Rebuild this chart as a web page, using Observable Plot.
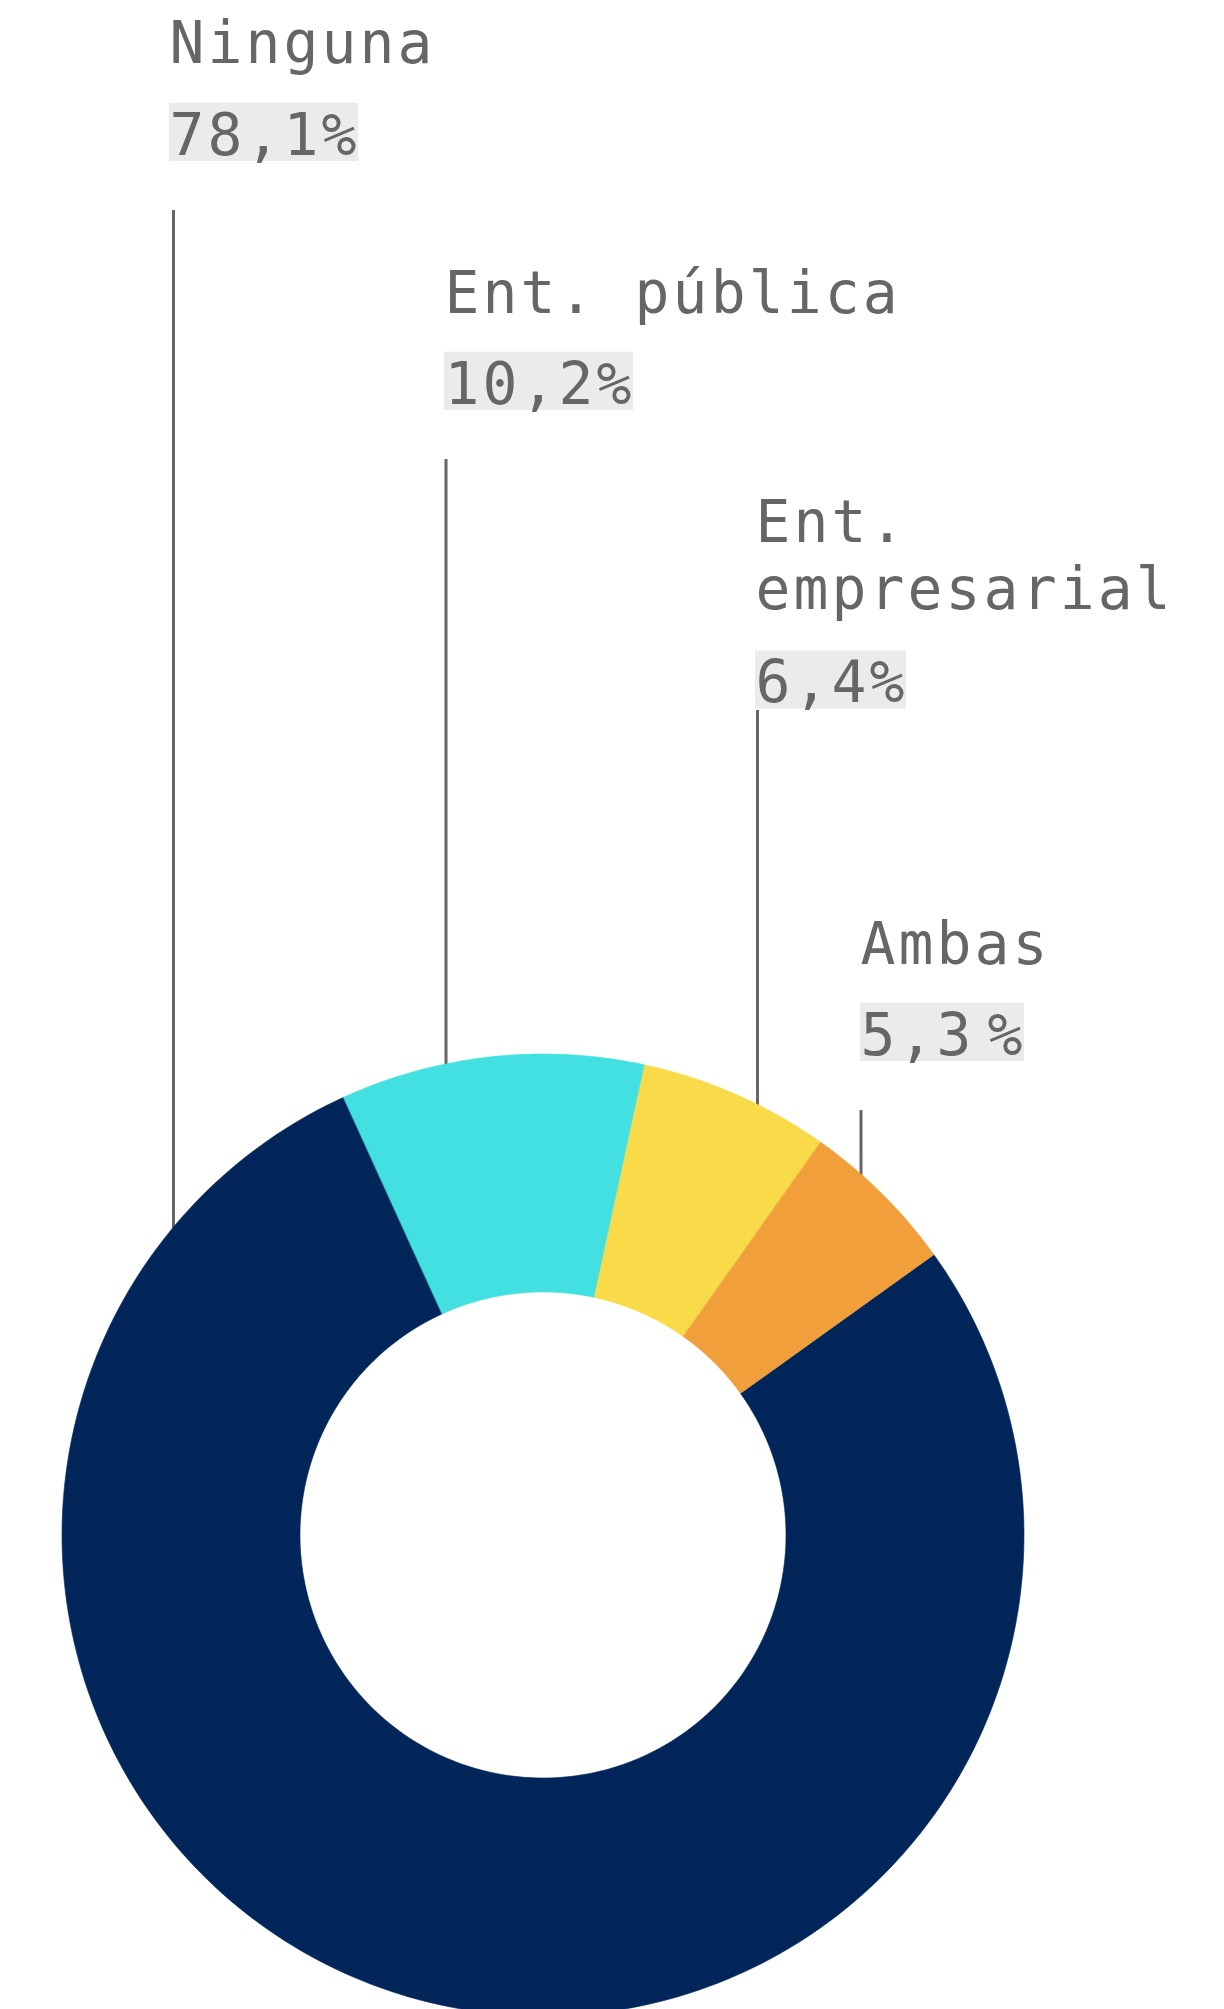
<!DOCTYPE html>
<html>
<head>
<meta charset="utf-8">
<script src="https://cdn.jsdelivr.net/npm/d3@7"></script>
<script src="https://cdn.jsdelivr.net/npm/@observablehq/plot@0.6"></script>
<style>
  html, body { margin: 0; padding: 0; background: #ffffff; }
  #chart svg { display: block; }
  #chart svg text { letter-spacing: 3.1px; }
</style>
</head>
<body>
<div id="chart"></div>
<script>
// ---- data ----
const categories = ["Ninguna", "Ent. pública", "Ent. empresarial", "Ambas"];
const values = [78.1, 10.2, 6.4, 5.3];
const colors = ["#02255A", "#42E0E0", "#F9DB49", "#F09F3A"];

// ---- layout (pixels) ----
const W = 1224, H = 2009;
const cx = 543, cy = 1535, outerR = 481, innerR = 243;
const startAngle = 54.35 * Math.PI / 180;
const labelX = [169, 444, 755, 860];
const leaderX = [173, 445.5, 757, 860.5];
const nameBaseline = [62.7, 312.7, 608, 963];
const valueBaseline = [154, 403, 701.7, 1054];
const lineTop = [210, 459, 710, 1110];
const pctGap = [0, 0, 0, 13];
const fontSize = 58, letterSp = 3.1, lineH = 66.3;
const fontFamily = "'DejaVu Sans Mono', 'Liberation Mono', monospace";
const textColor = "#666666", boxColor = "#EBEBEB";

// text measurement
const ctx = document.createElement("canvas").getContext("2d");
ctx.font = `${fontSize}px 'DejaVu Sans Mono'`;
const tw = s => ctx.measureText(s).width + s.length * letterSp;
function wrap(s, maxW) {
  const words = s.split(" "); const lines = []; let cur = "";
  for (const w of words) {
    const t = cur ? cur + " " + w : w;
    if (cur && tw(t) > maxW) { lines.push(cur); cur = w; } else cur = t;
  }
  if (cur) lines.push(cur);
  return lines.join("\n");
}

// ---- donut geometry from data ----
const rows = categories.map((c, i) => ({cat: c, value: values[i]}));
const arcs = d3.pie().sort(null).value(d => d.value)
  .startAngle(startAngle).endAngle(startAngle + 2 * Math.PI)(rows);
const N = 240;
const ring = [];
for (const a of arcs) {
  for (let k = 0; k <= N; k++) {
    const t = a.startAngle + (a.endAngle - a.startAngle) * k / N;
    ring.push({
      cat: a.data.cat,
      x1: cx + outerR * Math.sin(t), y1: cy - outerR * Math.cos(t),
      x2: cx + innerR * Math.sin(t), y2: cy - innerR * Math.cos(t)
    });
  }
}

// ---- labels ----
const labels = rows.map((d, i) => {
  const num = d.value.toFixed(1).replace(".", ",");
  const x0 = labelX[i];
  const lx = leaderX[i];
  return {
    cat: d.cat,
    x: x0,
    name: wrap(d.cat, W - x0 - 10),
    nameY: nameBaseline[i],
    num,
    numY: valueBaseline[i],
    pctX: x0 + tw(num) + pctGap[i],
    boxX1: x0, boxX2: x0 + tw(num + "%") + pctGap[i] - 1,
    boxY1: valueBaseline[i] - 51.3, boxY2: valueBaseline[i] + 7,
    lx,
    lineTop: lineTop[i],
    lineBottom: cy - Math.sqrt(outerR * outerR - (lx - cx) * (lx - cx)) + 3
  };
});

const textOpts = {textAnchor: "start", lineAnchor: "bottom", fontSize, fontFamily, fill: textColor};

const chart = Plot.plot({
  width: W, height: H,
  margin: 0,
  x: {domain: [0, W], range: [0, W], axis: null},
  y: {domain: [0, H], range: [0, H], axis: null},
  color: {domain: categories, range: colors},
  marks: [
    Plot.ruleX(labels, {x: "lx", y1: "lineTop", y2: "lineBottom", stroke: textColor, strokeWidth: 3}),
    Plot.area(ring, {x1: "x1", y1: "y1", x2: "x2", y2: "y2", fill: "cat", stroke: "cat", strokeWidth: 0.6, curve: "linear"}),
    Plot.rect(labels, {x1: "boxX1", x2: "boxX2", y1: "boxY1", y2: "boxY2", fill: boxColor}),
    Plot.text(labels, {x: "x", y: "nameY", text: "name", lineHeight: lineH / fontSize, ...textOpts}),
    Plot.text(labels, {x: "x", y: "numY", text: "num", ...textOpts}),
    Plot.text(labels, {x: "pctX", y: "numY", text: () => "%", ...textOpts})
  ]
});
document.getElementById("chart").appendChild(chart);
</script>
</body>
</html>
